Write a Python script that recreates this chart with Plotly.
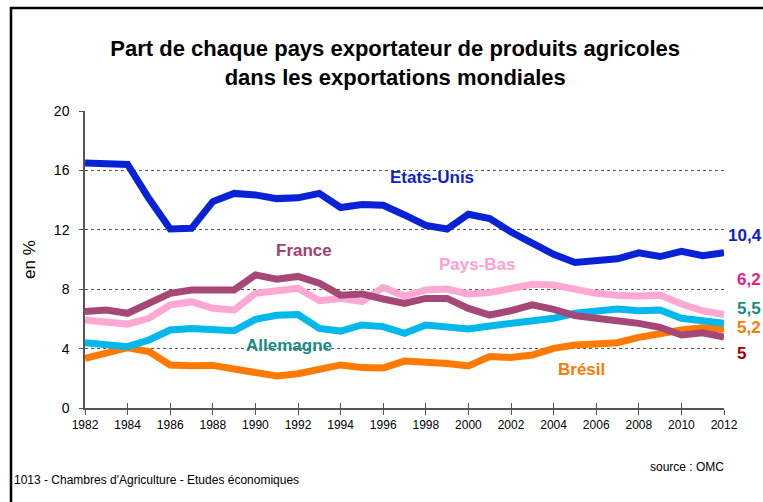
import plotly.graph_objects as go

years = list(range(1982, 2013))

etats_unis = [16.5, 16.4, 16.4, 14.1, 12.05, 12.1, 13.9, 14.45, 14.35, 14.1, 14.15,
              14.45, 13.5, 13.7, 13.65, 13.0, 12.3, 12.05, 13.05, 12.75, 11.85,
              11.1, 10.35, 9.8, 9.9, 10.05, 10.45, 10.2, 10.55, 10.25, 10.45]
france = [6.49, 6.6, 6.38, 7.05, 7.72, 7.95, 8.0, 7.95, 8.96, 8.67, 8.86,
          8.4, 7.6, 7.68, 7.34, 7.05, 7.38, 7.38, 6.71, 6.26, 6.55,
          6.94, 6.64, 6.22, 6.04, 5.88, 5.7, 5.43, 4.92, 5.07, 4.78]
pays_bas = [5.93, 5.8, 5.65, 6.04, 6.94, 7.16, 6.71, 6.6, 7.72, 7.9, 8.06,
            7.23, 7.38, 7.16, 8.12, 7.54, 7.95, 8.01, 7.68, 7.77, 8.08,
            8.33, 8.28, 8.0, 7.72, 7.6, 7.54, 7.6, 7.0, 6.55, 6.3]
allemagne = [4.4, 4.24, 4.13, 4.58, 5.25, 5.36, 5.3, 5.2, 5.97, 6.24, 6.3,
             5.36, 5.18, 5.59, 5.48, 5.03, 5.59, 5.41, 5.32, 5.52, 5.7,
             5.93, 6.04, 6.38, 6.49, 6.67, 6.55, 6.6, 6.04, 5.81, 5.7]
bresil = [3.35, 3.68, 4.06, 3.8, 2.9, 2.85, 2.87, 2.63, 2.38, 2.15, 2.31,
          2.56, 2.9, 2.72, 2.7, 3.16, 3.12, 3.0, 2.83, 3.46, 3.4,
          3.57, 4.02, 4.24, 4.31, 4.4, 4.76, 5.03, 5.25, 5.41, 5.3]

series_names = ["Etats-Unis", "France", "Pays-Bas", "Allemagne", "Brésil"]
final_labels = ["10,4", "5", "6,2", "5,5", "5,2"]
y_ticks = [0, 4, 8, 12, 16, 20]
x_ticks = list(range(1982, 2013, 2))

C_US = "#0A22D6"
C_FR = "#A64877"
C_NL = "#FFA8D4"
C_DE = "#00B8EC"
C_BR = "#FF7A00"

FONT = "Liberation Sans, Arial"

fig = go.Figure()
data = [(bresil, C_BR), (allemagne, C_DE), (pays_bas, C_NL), (france, C_FR), (etats_unis, C_US)]
for vals, col in data:
    fig.add_trace(go.Scatter(x=years, y=vals, mode="lines",
                             line=dict(color=col, width=7), hoverinfo="skip",
                             showlegend=False))
# helper trace for the overlay axis that draws the inner half of the crossing ticks
fig.add_trace(go.Scatter(x=[years[0]], y=[None], xaxis="x2", mode="lines",
                         showlegend=False, hoverinfo="skip"))

# series labels
fig.add_annotation(x=1998.3, y=15.55, text="<b>Etats-Unis</b>", showarrow=False,
                   font=dict(family=FONT, size=17, color="#0A22CC"))
fig.add_annotation(x=1992.3, y=10.64, text="<b>France</b>", showarrow=False,
                   font=dict(family=FONT, size=17, color="#A3406F"))
fig.add_annotation(x=2000.45, y=9.63, text="<b>Pays-Bas</b>", showarrow=False,
                   font=dict(family=FONT, size=17, color="#FFA0D0"))
fig.add_annotation(x=1991.6, y=4.24, text="<b>Allemagne</b>", showarrow=False,
                   font=dict(family=FONT, size=17, color="#168C84"))
fig.add_annotation(x=2005.3, y=2.56, text="<b>Brésil</b>", showarrow=False,
                   font=dict(family=FONT, size=17, color="#FF7A00"))

# end-value labels (placed just right of the plot area)
end_pos = [(1.033, 11.65, "#0A22CC", final_labels[0]),
           (1.027, 3.7, "#990010", final_labels[1]),
           (1.039, 8.62, "#E8207F", final_labels[2]),
           (1.039, 6.73, "#168C84", final_labels[3]),
           (1.039, 5.45, "#FF7A00", final_labels[4])]
for xx, yy, col, txt in end_pos:
    fig.add_annotation(xref="paper", yref="y", x=xx, y=yy, xanchor="center",
                       yanchor="middle", text="<b>" + txt + "</b>",
                       showarrow=False, font=dict(family=FONT, size=17, color=col))

# footer texts
fig.add_annotation(xref="paper", yref="paper", x=-0.114, y=-0.242, xanchor="left",
                   yanchor="middle", text="1013 - Chambres d'Agriculture - Etudes économiques",
                   showarrow=False, font=dict(family=FONT, size=12, color="#000000"))
fig.add_annotation(xref="paper", yref="paper", x=1.003, y=-0.199, xanchor="right",
                   yanchor="middle", text="source : OMC",
                   showarrow=False, font=dict(family=FONT, size=12, color="#000000"))

# outer frame
fig.add_shape(type="rect", xref="paper", yref="paper", x0=-0.1158, x1=1.2,
              y0=-0.5, y1=1.347, line=dict(color="#000000", width=2.5),
              fillcolor="rgba(0,0,0,0)", layer="above")

fig.update_layout(
    width=763, height=502,
    margin=dict(l=85, r=39, t=111, b=94),
    paper_bgcolor="#FFFFFF", plot_bgcolor="#FFFFFF",
    title=dict(text="<b>Part de chaque pays exportateur de produits agricoles<br>dans les exportations mondiales</b>",
               x=0.518, xanchor="center", y=1 - 56 / 502, yanchor="middle",
               font=dict(family=FONT, size=22, color="#000000")),
    xaxis=dict(range=[1982, 2012], tickvals=x_ticks, ticktext=[str(v) for v in x_ticks],
               showgrid=False, zeroline=False, showline=True, linecolor="#555555",
               linewidth=1.5, ticks="outside", ticklen=5, tickcolor="#555555",
               tickfont=dict(family=FONT, size=12, color="#000000")),
    xaxis2=dict(range=[1982, 2012], tickvals=x_ticks, overlaying="x", anchor="y",
                side="bottom", showticklabels=False, showgrid=False, zeroline=False,
                showline=False, ticks="inside", ticklen=5, tickcolor="#555555"),
    yaxis=dict(range=[0, 20], tickvals=y_ticks, showgrid=True, gridcolor="#555555",
               griddash="dot", gridwidth=1, zeroline=False, showline=True,
               linecolor="#555555", linewidth=1.5, ticks="outside", ticklen=4,
               tickcolor="#555555", ticklabelstandoff=7,
               tickfont=dict(family=FONT, size=14, color="#000000"),
               title=dict(text="en %", font=dict(family=FONT, size=17, color="#000000"),
                          standoff=14)),
)

fig.write_html("out.html", config={"displayModeBar": False},
               post_script="document.body.style.margin='0';document.body.style.overflow='hidden';")
